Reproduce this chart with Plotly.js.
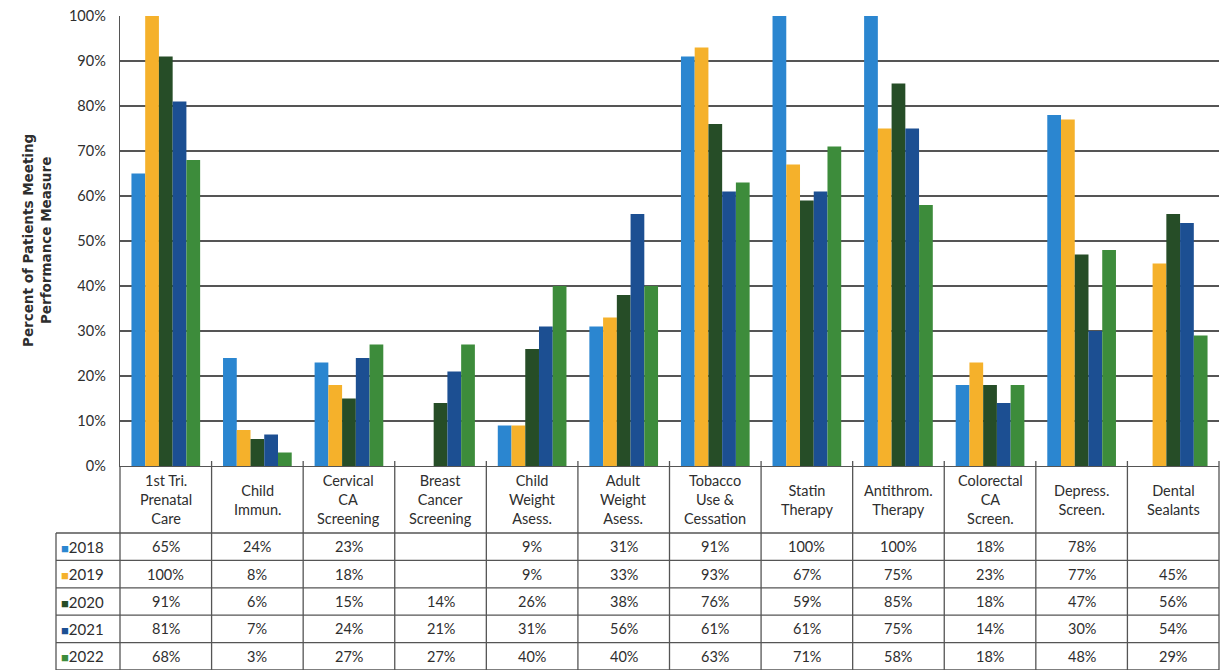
<!DOCTYPE html>
<html>
<head>
<meta charset="utf-8">
<script src="https://cdn.plot.ly/plotly-3.0.1.min.js"></script>
<style>html,body{margin:0;padding:0;background:#fff;}#chart{width:1226px;height:670px;}</style>
</head>
<body>
<div id="chart"></div>
<script>
const categories = ["1st Tri. Prenatal Care","Child Immun.","Cervical CA Screening","Breast Cancer Screening","Child Weight Asess.","Adult Weight Asess.","Tobacco Use & Cessation","Statin Therapy","Antithrom. Therapy","Colorectal CA Screen.","Depress. Screen.","Dental Sealants"];
const headerLabels = ["1st Tri.<br>Prenatal<br>Care","Child<br>Immun.","Cervical<br>CA<br>Screening","Breast<br>Cancer<br>Screening","Child<br>Weight<br>Asess.","Adult<br>Weight<br>Asess.","Tobacco<br>Use &amp;<br>Cessation","Statin<br>Therapy","Antithrom.<br>Therapy","Colorectal<br>CA<br>Screen.","Depress.<br>Screen.","Dental<br>Sealants"];
const years = ["2018","2019","2020","2021","2022"];
const v2018 = [65, 24, 23, null, 9, 31, 91, 100, 100, 18, 78, null];
const v2019 = [100, 8, 18, null, 9, 33, 93, 67, 75, 23, 77, 45];
const v2020 = [91, 6, 15, 14, 26, 38, 76, 59, 85, 18, 47, 56];
const v2021 = [81, 7, 24, 21, 31, 56, 61, 61, 75, 14, 30, 54];
const v2022 = [68, 3, 27, 27, 40, 40, 63, 71, 58, 18, 48, 29];
const yTickVals = [0,10,20,30,40,50,60,70,80,90,100];
const yTickText = ["0%","10%","20%","30%","40%","50%","60%","70%","80%","90%","100%"];
const yTitle = "Percent of Patients Meeting<br>Performance Measure";

const series = [v2018, v2019, v2020, v2021, v2022];
const colors = ["#2b86d0", "#f5b12b", "#264d27", "#1c4f92", "#3d8c3b"];
const FONT = "Lato, 'Open Sans', sans-serif";
const TXT = "#2e2e2e";
const LINE = "#555555";

const W = 1226, H = 670, ML = 120, MR = 7, MT = 16, MB = 204;
const plotH = H - MT - MB, plotW = W - ML - MR;
const plotBottom = H - MB;
const py = p => (plotBottom - p) / plotH;        // pixel y -> paper y
const px = p => (p - ML) / plotW;                // pixel x -> paper x

const traces = years.map((yr, i) => ({
  type: "bar",
  name: yr,
  x: categories,
  y: series[i],
  marker: {color: colors[i], line: {width: 0}},
  hoverinfo: "x+y+name"
}));

const headerBottom = 533, rowH = 27.4, tableBottom = 670;
const legendLeft = 56;
const shapes = [];
const annotations = [];
const nC = categories.length;

// vertical table lines
for (let i = 0; i <= nC; i++) {
  shapes.push({type: "line", xref: "paper", yref: "paper", x0: i / nC, x1: i / nC,
    y0: py(i === 0 ? plotBottom : plotBottom - 5), y1: py(tableBottom), line: {color: LINE, width: 1.3}});
}
// left legend border
shapes.push({type: "line", xref: "paper", yref: "paper", x0: px(legendLeft), x1: px(legendLeft),
  y0: py(headerBottom), y1: py(tableBottom), line: {color: LINE, width: 1.3}});
// horizontal table lines
for (let r = 0; r <= years.length; r++) {
  const yy = headerBottom + r * rowH;
  shapes.push({type: "line", xref: "paper", yref: "paper", x0: px(legendLeft), x1: 1,
    y0: py(yy), y1: py(yy), line: {color: LINE, width: 1.3}});
}

// header labels
categories.forEach((c, i) => {
  annotations.push({xref: "x", yref: "paper", x: c, y: py((plotBottom + headerBottom) / 2),
    text: headerLabels[i], showarrow: false, xanchor: "center", yanchor: "middle", align: "center",
    font: {family: FONT, size: 14.5, color: TXT}});
});
// rows
years.forEach((yr, r) => {
  const cy = py(headerBottom + (r + 0.5) * rowH);
  annotations.push({xref: "paper", yref: "paper", x: px(legendLeft + 3), y: cy, xanchor: "left", yanchor: "middle",
    text: '<span style="color:' + colors[r] + ';font-size:13px">■</span>' + yr, showarrow: false,
    font: {family: FONT, size: 15, color: TXT}});
  categories.forEach((c, i) => {
    const v = series[r][i];
    if (v === null) return;
    annotations.push({xref: "x", yref: "paper", x: c, y: cy, xanchor: "center", yanchor: "middle",
      text: v + "%", showarrow: false, font: {family: FONT, size: 14.5, color: TXT}});
  });
});
// y title
annotations.push({xref: "paper", yref: "paper", x: px(37), y: 0.5, xanchor: "center", yanchor: "middle",
  text: "<b>" + yTitle + "</b>", textangle: -90, showarrow: false, align: "center",
  font: {family: "'DejaVu Sans', sans-serif", size: 13.5, color: TXT}});

const layout = {
  width: W, height: H,
  margin: {l: ML, r: MR, t: MT, b: MB, pad: 0},
  paper_bgcolor: "#ffffff", plot_bgcolor: "#ffffff",
  barmode: "group", bargap: 0.25, bargroupgap: 0,
  showlegend: false,
  font: {family: FONT, size: 14, color: TXT},
  xaxis: {type: "category", range: [-0.5, nC - 0.5], showticklabels: false, ticks: "",
    showgrid: false, zeroline: false, showline: true, linecolor: LINE, linewidth: 1.3, fixedrange: true},
  yaxis: {range: [0, 100], tickvals: yTickVals, ticktext: yTickText, ticks: "", ticklabelstandoff: 10,
    showgrid: true, gridcolor: LINE, gridwidth: 1.3, zeroline: false, showline: true, linecolor: LINE, linewidth: 1.3,
    tickfont: {family: FONT, size: 14.5, color: TXT}, fixedrange: true},
  shapes: shapes,
  annotations: annotations
};

Plotly.newPlot("chart", traces, layout, {displayModeBar: false, staticPlot: true});
</script>
</body>
</html>
